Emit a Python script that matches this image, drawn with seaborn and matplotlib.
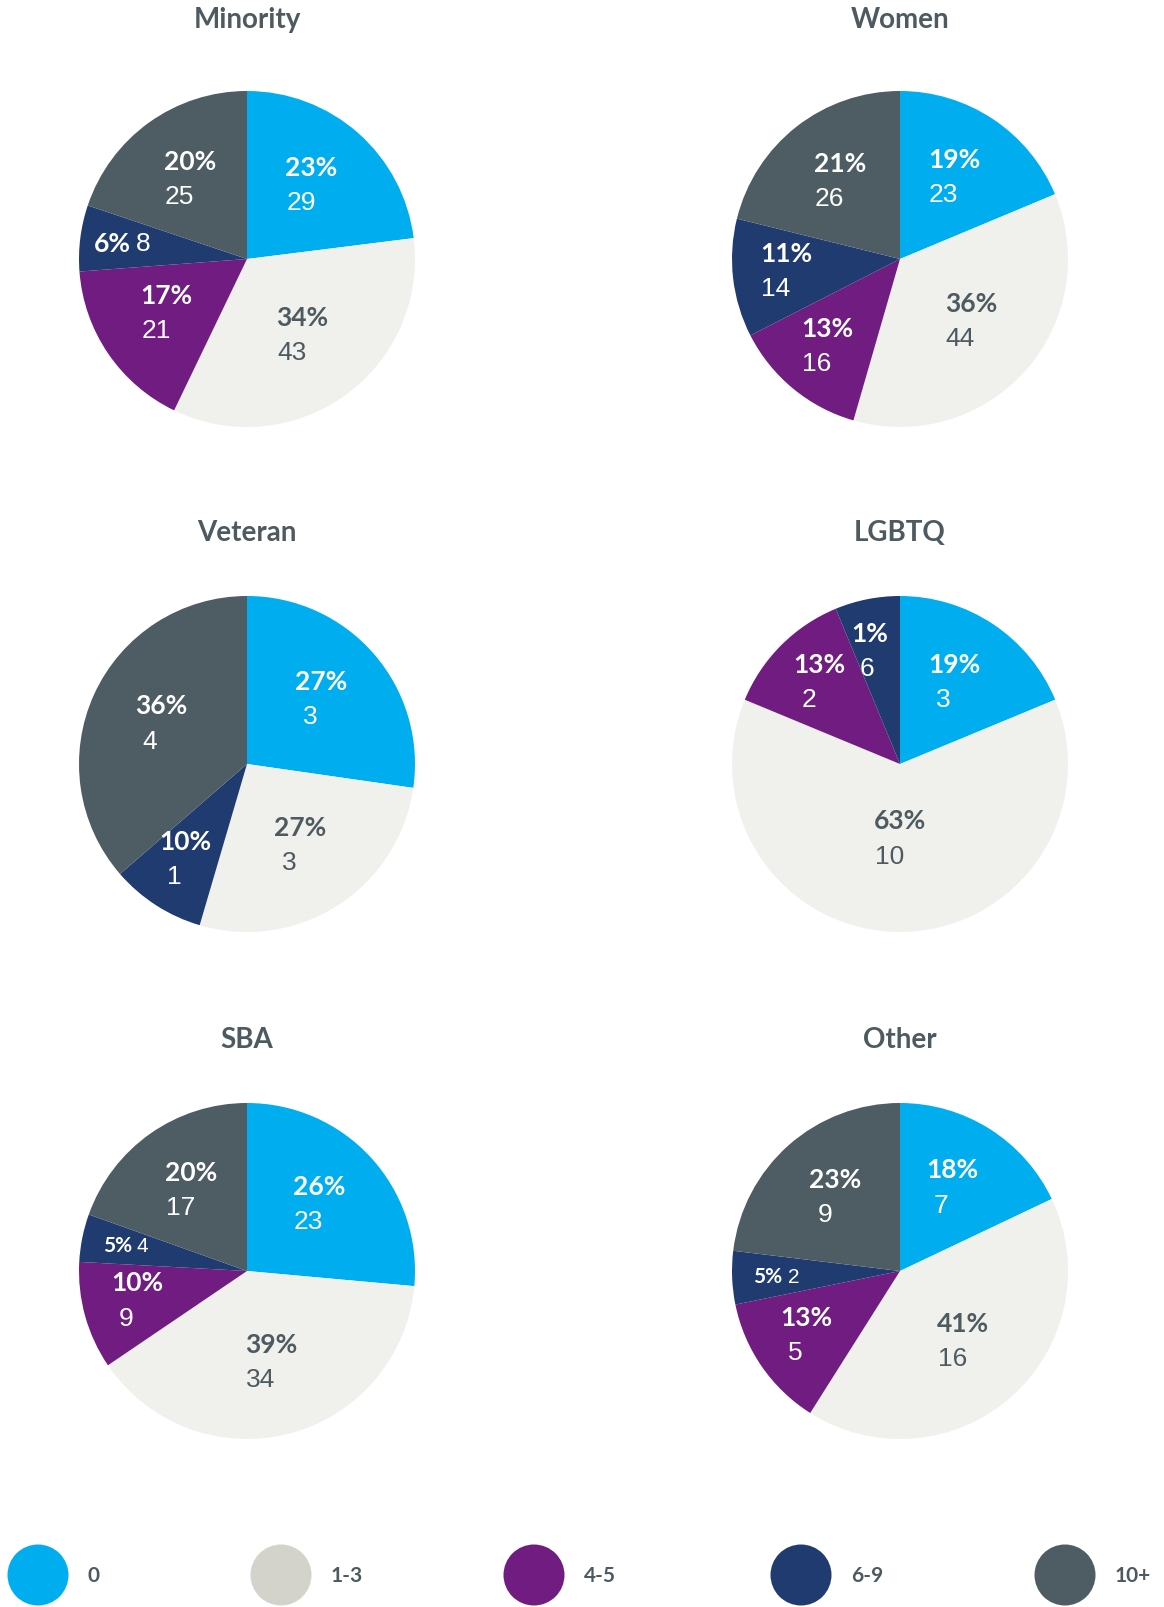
import numpy as np
import matplotlib
matplotlib.use("Agg")
import matplotlib.pyplot as plt
from matplotlib.patches import Circle
import seaborn as sns

# ---------------------------------------------------------------
# Data
# ---------------------------------------------------------------
buckets = ["0", "1-3", "4-5", "6-9", "10+"]

minority_counts = [29, 43, 21, 8, 25]
minority_pct = ["23%", "34%", "17%", "6%", "20%"]

women_counts = [23, 44, 16, 14, 26]
women_pct = ["19%", "36%", "13%", "11%", "21%"]

veteran_counts = [3, 3, 0, 1, 4]
veteran_pct = ["27%", "27%", "", "10%", "36%"]

lgbtq_counts = [3, 10, 2, 1, 0]
lgbtq_pct = ["19%", "63%", "13%", "1%", ""]
lgbtq_count_text = ["3", "10", "2", "6", ""]  # source chart shows "1%" / "6" on the 6-9 slice

sba_counts = [23, 34, 9, 4, 17]
sba_pct = ["26%", "39%", "10%", "5%", "20%"]

other_counts = [7, 16, 5, 2, 9]
other_pct = ["18%", "41%", "13%", "5%", "23%"]

groups = [
    ("Minority", minority_counts, minority_pct, None),
    ("Women", women_counts, women_pct, None),
    ("Veteran", veteran_counts, veteran_pct, None),
    ("LGBTQ", lgbtq_counts, lgbtq_pct, lgbtq_count_text),
    ("SBA", sba_counts, sba_pct, None),
    ("Other", other_counts, other_pct, None),
]

# ---------------------------------------------------------------
# Style
# ---------------------------------------------------------------
sns.set_theme(style="white")
pie_colors = sns.color_palette(["#00AEEF", "#F0F0EC", "#701C80", "#1F3B70", "#4D5D63"])
legend_colors = ["#00AEEF", "#D3D3CB", "#701C80", "#1F3B70", "#4D5D63"]
TEXT_GRAY = "#4D5B61"
BOLD_FONT = ["Lato", "DejaVu Sans"]
NUM_FONT = ["Liberation Sans", "DejaVu Sans"]

W, H = 1164, 1608
fig = plt.figure(figsize=(W / 100, H / 100), dpi=100)
fig.patch.set_facecolor("white")

R = 168  # pie radius in pixels
col_x = [247, 900]
row_y = [260, 765, 1272]
title_y = [20, 533, 1040]
line_gap = 0.105   # half-distance between pct line and count line (radius units)
half_block = 0.155  # half width of a "23%" label (radius units)
digit_slot = 0.092  # half width of a two-digit count (radius units)

for i, (name, counts, pcts, count_text) in enumerate(groups):
    cx = col_x[i % 2]
    cy = row_y[i // 2]
    ax = fig.add_axes([(cx - R) / W, 1 - (cy + R) / H, 2 * R / W, 2 * R / H])
    wedges, _ = ax.pie(counts, colors=pie_colors, startangle=90, counterclock=False,
                       radius=1, wedgeprops=dict(linewidth=0))
    ax.set_xlim(-1, 1)
    ax.set_ylim(-1, 1)
    ax.set_aspect("equal")
    ax.axis("off")

    total = sum(counts)
    for j, w in enumerate(wedges):
        if counts[j] == 0:
            continue
        frac = counts[j] / total
        mid = np.deg2rad((w.theta1 + w.theta2) / 2)
        color = TEXT_GRAY if buckets[j] == "1-3" else "white"
        ctext = count_text[j] if count_text else str(counts[j])
        inline = frac < 0.07 and abs(np.cos(mid)) > 0.7
        if inline:
            r = 0.77
        elif frac < 0.15:
            r = 0.68
        elif frac > 0.5:
            r = 0.45
        elif frac > 0.3:
            r = 0.565
        else:
            r = 0.58
        x, y = r * np.cos(mid), r * np.sin(mid)
        if inline:
            fs = 15 if frac < 0.055 else 19
            ax.text(x + 0.07, y, pcts[j], ha="right", va="center", fontsize=fs,
                    fontweight="bold", family=BOLD_FONT, color=color)
            ax.text(x + 0.1, y, ctext, ha="left", va="center", fontsize=fs,
                    family=NUM_FONT, color=color)
        else:
            left = x - half_block
            ax.text(left, y + line_gap + 0.01, pcts[j], ha="left", va="center", fontsize=19,
                    fontweight="bold", family=BOLD_FONT, color=color)
            ax.text(left + digit_slot, y - line_gap + 0.01, ctext, ha="center", va="center",
                    fontsize=19, family=NUM_FONT, color=color)

    fig.text(cx / W, 1 - title_y[i // 2] / H, name, ha="center", va="center", fontsize=20,
             fontweight="bold", family=BOLD_FONT, color=TEXT_GRAY)

# ---------------------------------------------------------------
# Legend along the bottom
# ---------------------------------------------------------------
leg_h = 70
lax = fig.add_axes([0, 0, 1, leg_h / H])
lax.set_xlim(0, W)
lax.set_ylim(0, leg_h)
lax.axis("off")
legend_x = [38, 281, 534, 801, 1065]
for lx, lab, c in zip(legend_x, buckets, legend_colors):
    lax.add_patch(Circle((lx, 32), 30.5, color=c, linewidth=0))
    lax.text(lx + 50, 32, lab, ha="left", va="center", fontsize=15, fontweight="bold",
             family=BOLD_FONT, color=TEXT_GRAY)

fig.savefig("out.png", dpi=100, facecolor="white")
